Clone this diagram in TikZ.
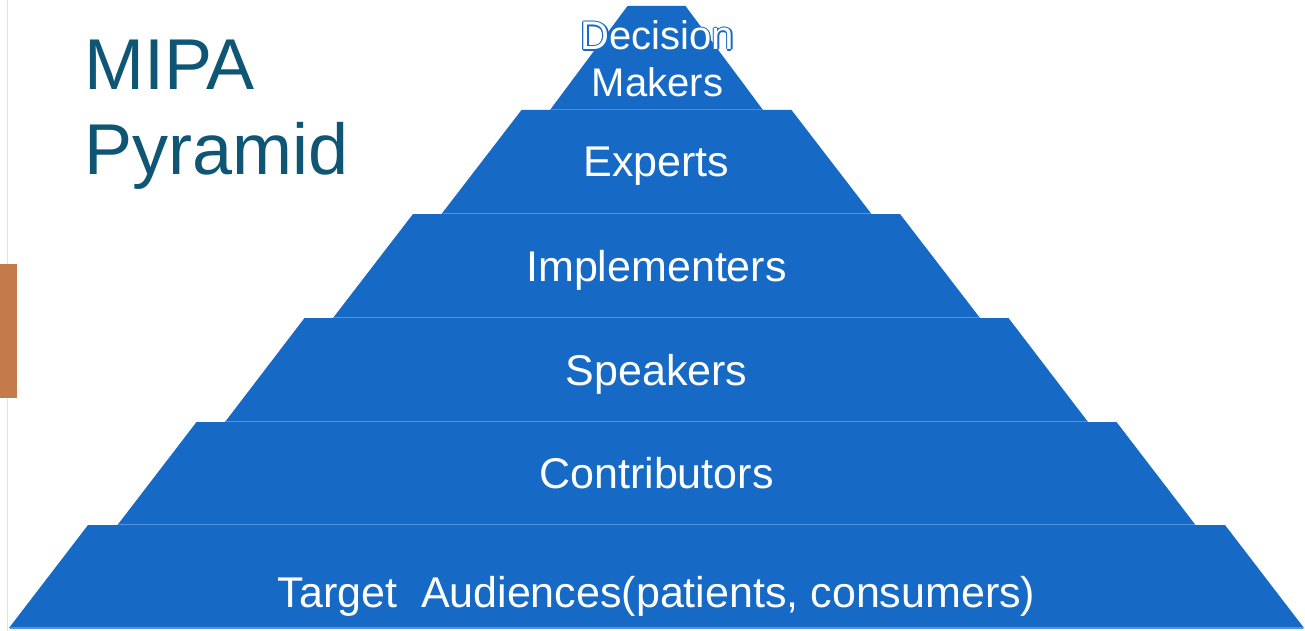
\documentclass[tikz,border=0pt]{standalone}
\usepackage{fontspec}
\setmainfont{Liberation Sans}
\definecolor{tierblue}{RGB}{22,106,198}
\definecolor{seamblue}{RGB}{80,148,222}
\definecolor{titleteal}{RGB}{15,86,116}
\definecolor{accentbar}{RGB}{196,122,74}
\definecolor{framegray}{RGB}{226,226,226}

\begin{document}
\begin{tikzpicture}[x=1pt,y=-1pt,
  tier/.style={fill=tierblue},
  seam/.style={draw=seamblue,line width=1.2pt},
  tierlabel/.style={text=white,anchor=base,inner sep=0pt,font=\fontsize{43}{50}\selectfont},
  toplabel/.style={text=white,anchor=base,inner sep=0pt,font=\fontsize{40}{46}\selectfont},
  titletext/.style={text=titleteal,anchor=base west,inner sep=0pt,font=\fontsize{72}{82}\selectfont}]
\useasboundingbox (0,0) rectangle (1305,631);
\fill[white] (0,0) rectangle (1305,631);

% slide frame line and accent bar
\draw[framegray,line width=1.5pt] (7.5,0) -- (7.5,631);
\fill[accentbar] (0,264) rectangle (17,398);

% title
\node[titletext] (title1) at (84,90) {MIPA};
\node[titletext] (title2) at (84,175) {Pyramid};

% pyramid tiers: top y / bottom y / top half-width / bottom half-width
\foreach \yt/\yb/\ht/\hb in {6/110/29/106.5, 110/214/135/215, 214/318/243.5/323.5,
    318/422/352/431.5, 422/525/460/539, 525/628/568.5/647.5}{
  \fill[tier] ({656.5-\ht},\yt) -- ({656.5+\ht},\yt) -- ({656.5+\hb},\yb) -- ({656.5-\hb},\yb) -- cycle;
  \draw[seam] ({656.5-\hb+1},\yb) -- ({656.5+\hb-1},\yb);
}

% top tier label, outlined where it leaves the pyramid
\foreach \dx/\dy [count=\k] in {1.3/0,-1.3/0,0/1.3,0/-1.3,0.9/0.9,0.9/-0.9,-0.9/0.9,-0.9/-0.9}{
  \node[toplabel,text=tierblue] (halo\k) at ({657.5+\dx},{50+\dy}) {Decision};
}
\node[toplabel] (decision) at (657.5,50) {Decision};
\node[toplabel] (makers) at (657.5,97) {Makers};

\node[tierlabel] (experts) at (656.5,177) {Experts};
\node[tierlabel] (implementers) at (656.5,281) {Implementers};
\node[tierlabel] (speakers) at (656.5,385) {Speakers};
\node[tierlabel] (contributors) at (656.5,488) {Contributors};
\node[tierlabel] (audiences) at (656.5,607) {Target\ \ Audiences(patients, consumers)};
\end{tikzpicture}
\end{document}
